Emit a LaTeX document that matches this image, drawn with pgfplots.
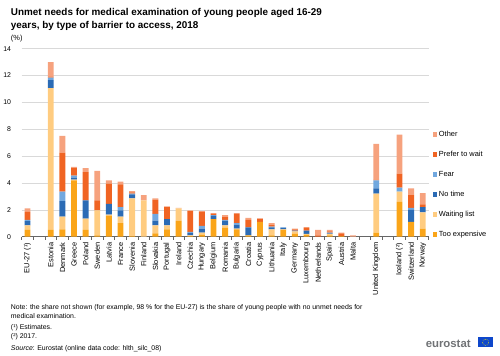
\documentclass[border=0pt]{standalone}
\usepackage{pgfplots}
\pgfplotsset{compat=1.18}
\usepackage{pgfplotstable}
\usepackage{fontspec}
\setmainfont{Liberation Sans}
\definecolor{cExp}{HTML}{FAA519}
\definecolor{cWait}{HTML}{FFCC80}
\definecolor{cTime}{HTML}{2B6BB5}
\definecolor{cFear}{HTML}{71A8DF}
\definecolor{cPref}{HTML}{F06423}
\definecolor{cOther}{HTML}{F6A27E}
\definecolor{cGrid}{HTML}{D9D9D9}
\definecolor{cLogo}{HTML}{707275}
\definecolor{cFlag}{HTML}{0E47CB}
\pgfplotstableread{
x tooexp waiting notime fear prefer other
0 0.5 0.35 0.3 0.1 0.6 0.25
2 0.5 10.55 0.6 0.2 0.05 1.1
3 0.55 0.95 1.15 0.7 2.9 1.25
4 4.2 0.05 0.15 0.15 0.55 0.1
5 0.5 0.85 1.35 0 2.1 0.3
6 0.1 1.85 0 0 0.75 2.2
7 1.55 0.1 0.8 0 1.5 0.25
8 1.0 0.5 0.45 0.25 1.7 0.2
9 0.05 2.8 0.3 0.05 0.1 0.1
10 0 2.7 0 0 0 0.4
11 0.25 0.6 0.35 0.5 1.05 0.1
12 0.55 0.3 0.45 0 0.9 0.05
13 1.2 0.9 0 0 0 0.05
14 0.05 0.05 0.2 0.05 1.55 0.05
15 0.15 0.15 0.3 0.2 1.05 0.05
16 1.3 0 0.25 0.05 0.1 0.05
17 0.65 0.2 0.35 0.05 0.2 0.15
18 0.55 0.05 0.3 0.1 0.7 0.05
19 0.1 0 0.6 0 0.55 0.15
20 1.1 0 0 0 0.22 0.05
21 0.1 0.45 0.15 0.05 0.15 0.1
22 0.5 0.05 0.1 0.05 0 0
23 0.2 0.2 0.05 0 0.1 0.05
24 0.15 0.05 0.25 0 0.25 0
25 0 0 0 0 0.1 0.4
26 0.1 0.1 0.05 0.05 0.1 0.1
27 0.05 0 0 0 0.2 0.05
28 0 0 0 0 0 0.1
30 0.3 2.9 0.4 0.6 0.05 2.65
32 2.6 0.75 0 0.3 1.05 2.9
33 1.1 0 0.9 0.15 0.95 0.5
34 0.6 1.2 0.4 0 0.2 0.85
}\datatable
\begin{document}
\begin{tikzpicture}
\path (0bp,0bp) rectangle (500bp,358bp);
\node[anchor=base west, inner sep=0, font=\fontsize{10}{12}\selectfont\bfseries] at (7bp,342.5bp) {Unmet needs for medical examination of young people aged 16-29};
\node[anchor=base west, inner sep=0, font=\fontsize{10}{12}\selectfont\bfseries] at (7bp,329bp) {years, by type of barrier to access, 2018};
\node[anchor=base west, inner sep=0, font=\fontsize{7.5}{9}\selectfont] at (7bp,317bp) {(\%)};
\begin{axis}[
  at={(18bp,119.5bp)}, anchor=south west,
  scale only axis, width=410bp, height=189.5bp,
  ybar stacked, bar width=6bp,
  xmin=-0.5, xmax=34.5, ymin=0, ymax=14,
  axis x line*=bottom, axis y line*=left,
  y axis line style={draw=none},
  x axis line style={draw=gray!80!black, line width=0.5pt},
  ytick={0,2,...,14},
  ymajorgrids, grid style={cGrid, line width=0.6pt},
  ytick style={draw=none},
  yticklabel style={font=\fontsize{7}{8}\selectfont, xshift=-3bp},
  /pgf/number format/assume math mode=true,
  xtick={0,...,34},
  major x tick style={draw=none},
  minor xtick={-0.5,0.5,...,34.5},
  minor x tick style={draw=gray!80!black, line width=0.5pt},
  minor tick length=3bp,
  tick align=outside,
  xticklabel style={rotate=90, anchor=east, font=\fontsize{7.5}{9}\selectfont, inner sep=1.5bp},
  xticklabels={EU-27 (¹),,Estonia,Denmark,Greece,Poland,Sweden,Latvia,France,Slovenia,Finland,Slovakia,Portugal,Ireland,Czechia,Hungary,Belgium,Romania,Bulgaria,Croatia,Cyprus,Lithuania,Italy,Germany,Luxembourg,Netherlands,Spain,Austria,Malta,,United Kingdom,,Iceland (²),Switzerland,Norway},
  reverse legend,
  legend cell align=left,
  legend style={at={(1,0)}, anchor=south west, xshift=4bp, yshift=-3bp, draw=none, fill=none, inner sep=0pt, outer sep=0pt,
    font=\fontsize{7.5}{9}\selectfont, row sep=10.2bp,
    nodes={text height=5.5bp, text depth=1.5bp, inner sep=1.5bp}},
  legend image code/.code={\fill[#1] (0bp,-2.5bp) rectangle (5bp,2.5bp);},
  clip=false,
]
\addplot[fill=cExp, draw=none] table[x=x, y=tooexp] {\datatable};
\addlegendentry{Too expensive}
\addplot[fill=cWait, draw=none] table[x=x, y=waiting] {\datatable};
\addlegendentry{Waiting list}
\addplot[fill=cTime, draw=none] table[x=x, y=notime] {\datatable};
\addlegendentry{No time}
\addplot[fill=cFear, draw=none] table[x=x, y=fear] {\datatable};
\addlegendentry{Fear}
\addplot[fill=cPref, draw=none] table[x=x, y=prefer] {\datatable};
\addlegendentry{Prefer to wait}
\addplot[fill=cOther, draw=none] table[x=x, y=other] {\datatable};
\addlegendentry{Other}
\end{axis}
\begin{scope}[every node/.style={anchor=base west, inner sep=0, font=\fontsize{7}{8.5}\selectfont}]
\node at (7bp,46.5bp) {Note: the share not shown (for example, 98 \% for the EU-27) is the share of young people with no unmet needs for};
\node at (7bp,37.5bp) {medical examination.};
\node at (7bp,25.5bp) {(¹) Estimates.};
\node at (7bp,17bp) {(²) 2017.};
\node at (7bp,5bp) {\textit{Source}: Eurostat (online data code: hlth\_silc\_08)};
\end{scope}
\node[anchor=base west, inner sep=0, text=cLogo, font=\fontsize{11.5}{12}\selectfont\bfseries] at (425bp,8bp) {eurostat};
\fill[cFlag] (478bp,8bp) rectangle (493bp,18bp);
\foreach \a in {0,30,...,330} {\fill[yellow, shift={(485.5bp,13bp)}] (\a:3bp) circle (0.4bp);}
\end{tikzpicture}
\end{document}
